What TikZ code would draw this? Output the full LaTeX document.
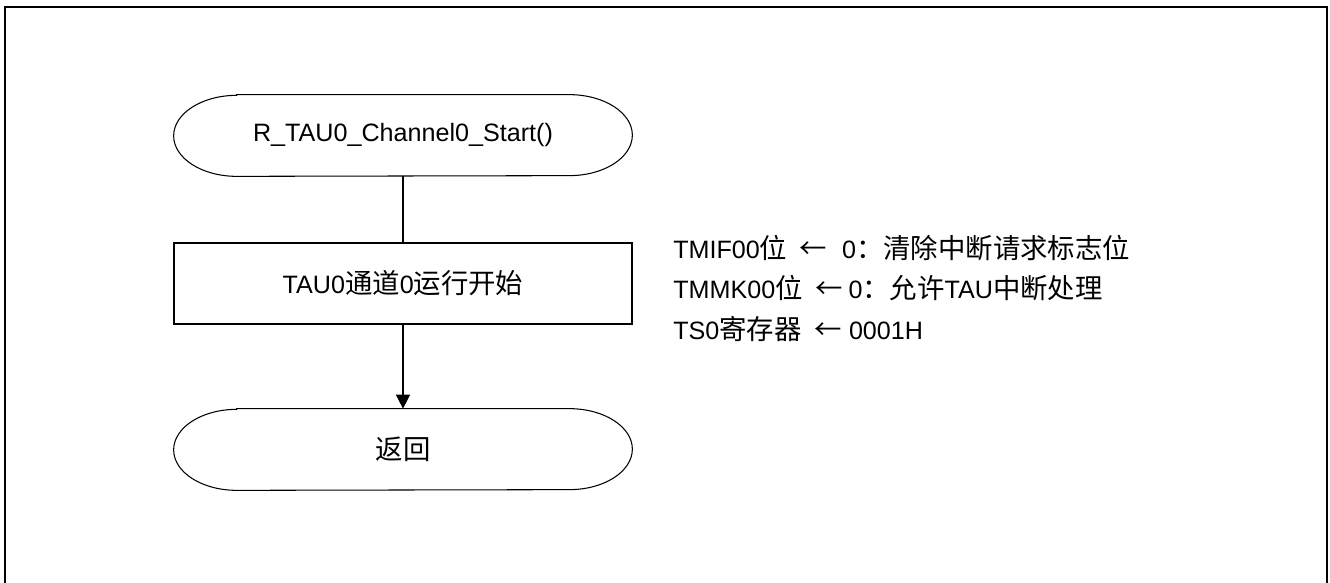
\documentclass[tikz,border=0pt]{standalone}
\usepackage{fontspec}
\setmainfont{Liberation Sans}
\newfontfamily\cjk[Scale=1.09]{Noto Sans CJK SC}
\usetikzlibrary{arrows.meta}

\begin{document}
\begin{tikzpicture}[every node/.style={font=\fontsize{14.3}{17}\selectfont},
	block/.style={draw, line width=0.6pt, minimum width=9.16cm, minimum height=1.62cm},
	term/.style={minimum width=9.16cm, minimum height=1.62cm},
	note/.style={anchor=west, inner sep=0pt}]
			\useasboundingbox (0,0) rectangle (26.6,11.66);
			\draw[line width=1.2pt] (0.1,0) -- (0.1,11.52) -- (26.54,11.52) -- (26.54,0);

			\node[term] (start) at (8.06, 8.95) {R\_TAU0\_Channel0\_Start()};
			\node[block] (run) at (8.06, 5.99) {TAU0{\cjk 通道}0{\cjk 运行开始}};
			\node[term] (ret) at (8.06, 2.67) {{\cjk 返回}};

			\foreach \n in {start, ret}
			\draw[line width=0.6pt] ([xshift=1.26cm]\n.north west) -- ([xshift=-1.26cm]\n.north east)
				arc[start angle=90, end angle=-90, x radius=1.26cm, y radius=0.81cm]
				-- ([xshift=1.26cm]\n.south west)
				arc[start angle=270, end angle=90, x radius=1.26cm, y radius=0.81cm] -- cycle;

			\draw[line width=0.85pt] (start) -- (run);
			\draw[line width=0.85pt, -{Triangle[width=0.28cm, length=0.28cm]}] (run) -- (ret);

			\node[note] (tmif) at (13.46, 6.70) {TMIF00{\cjk 位}\hspace{0.25cm}{\cjk ←}\hspace{0.3cm}0{\cjk ：清除中断请求标志位}};
			\node[note] (tmmk) at (13.46, 5.90) {TMMK00{\cjk 位}\hspace{0.25cm}{\cjk ←}\hspace{0.12cm}0{\cjk ：允许}TAU{\cjk 中断处理}};
			\node[note] (ts) at (13.46, 5.08) {TS0{\cjk 寄存器}\hspace{0.25cm}{\cjk ←}\hspace{0.15cm}0001H};
		\end{tikzpicture}
\end{document}
